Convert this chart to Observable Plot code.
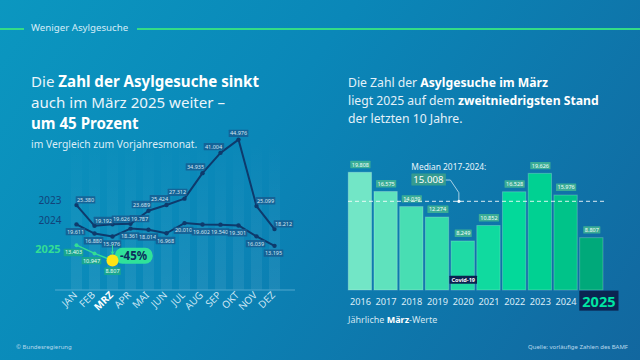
<!DOCTYPE html>
<html lang="de">
<head>
<meta charset="utf-8">
<script src="https://cdn.jsdelivr.net/npm/d3@7"></script>
<script src="https://cdn.jsdelivr.net/npm/@observablehq/plot@0.6"></script>
<style>
  html, body { margin: 0; padding: 0; }
  body {
    width: 640px; height: 360px; position: relative; overflow: hidden;
    background: linear-gradient(125deg, #0b97c0 0%, #0a87b8 40%, #12679f 100%);
    font-family: "Noto Sans", sans-serif; color: #eef7fc;
  }
  .abs { position: absolute; white-space: nowrap; }
  .hline { position: absolute; height: 1.5px; background: #34dc86; top: 28px; }
  #header { left: 31px; top: 21px; font-size: 9.7px; line-height: 14px; color: #d6edf8; }
  #ltitle { left: 31px; top: 71px; font-size: 15.1px; line-height: 21px; color: #eaf5fb; }
  #lsub { left: 31px; top: 137px; font-size: 10.3px; line-height: 14px; color: #dcedf7; }
  #rtitle { left: 348px; top: 74px; font-size: 12.2px; line-height: 18px; color: #e4f1f9; }
  #rnote { left: 348px; top: 313px; font-size: 9px; line-height: 14px; color: #d2e6f1; }
  #credit { left: 16px; top: 342px; font-size: 6px; line-height: 10px; color: #b9d9ec; }
  #source { right: 12px; top: 342px; font-size: 6px; line-height: 10px; color: #b9d9ec; }
  b { color: #ffffff; font-weight: 700; }
  svg.plot { position: absolute; left: 0; top: 0; }
</style>
</head>
<body>
<div class="hline" style="left:0;width:24px"></div>
<div class="hline" style="left:137px;width:503px"></div>
<div id="header" class="abs">Weniger Asylgesuche</div>
<div id="ltitle" class="abs">Die <b>Zahl der Asylgesuche sinkt</b><br>auch im März 2025 weiter –<br><b>um 45 Prozent</b></div>
<div id="lsub" class="abs">im Vergleich zum Vorjahresmonat.</div>
<div id="rtitle" class="abs">Die Zahl der <b>Asylgesuche im März</b><br>liegt 2025 auf dem <b>zweitniedrigsten Stand</b><br>der letzten 10 Jahre.</div>
<div id="rnote" class="abs">Jährliche <b>März</b>-Werte</div>
<div id="credit" class="abs">© Bundesregierung</div>
<div id="source" class="abs">Quelle: vorläufige Zahlen des BAMF</div>

<script>
// ---------- data ----------
const months = ["JAN", "FEB", "MRZ", "APR", "MAI", "JUN", "JUL", "AUG", "SEP", "OKT", "NOV", "DEZ"];
const asyl2023 = [25380, 19192, 19626, 19787, 23689, 25424, 27312, 34935, 41004, 44976, 25099, 18212];
const asyl2024 = [19611, 16880, 15976, 18361, 18014, 16968, 20010, 19602, 19540, 19301, 16039, 13195];
const asyl2025 = [13403, 10947, 8807];
const changeLabel = "-45%";

const marchYears = [2016, 2017, 2018, 2019, 2020, 2021, 2022, 2023, 2024, 2025];
const marchValues = [19808, 16575, 14039, 12274, 8249, 10852, 16528, 19626, 15976, 8807];
const medianValue = 15008;
const medianLabel = "Median 2017-2024:";
const covidYear = 2020;
const covidLabel = "Covid-19";

// ---------- styles ----------
const FONT = "Noto Sans, sans-serif";
const NAVY = "#0e3a6c";
const GREEN = "#33dd95";
const barColors = ["#72e6c6", "#5fe2bd", "#48deb3", "#33dbab", "#1fdaa5", "#10da9f", "#03d99a", "#00d192", "#00c389", "#00a97a"];
// unique text fills, used to find each label group afterwards
const F23 = "#d4e6f3", F24 = "#d4e6f2", F25 = "#e6fff4", FPILL = "#0c2f5c",
      FBAR = "#f2fffb", FMED = "#fffffe", FCOV = "#fffffd", FY25 = "#00e6a2";

const de = d3.formatLocale({decimal: ",", thousands: ".", grouping: [3], currency: ["", "€"]});
const fmt = de.format(",d");

const rows = (vals, series) => vals.map((v, i) => ({month: months[i], idx: i, value: v, series}));
const r23 = rows(asyl2023, "2023");
const r24 = rows(asyl2024, "2024");
const r25 = rows(asyl2025, "2025");
const last25 = r25[r25.length - 1];
const prev24 = r24[last25.idx];

const marchRows = marchYears.map((y, i) => ({year: y, value: marchValues[i]}));

// ---------- left chart ----------
const lbl = {fontSize: 5.5, text: d => fmt(d.value), x: "month", y: "value"};
const left = Plot.plot({
  width: 640, height: 360,
  marginLeft: 55, marginRight: 345, marginTop: 0, marginBottom: 70,
  style: {background: "transparent", fontFamily: FONT, overflow: "visible"},
  x: {type: "point", domain: months, range: [65, 285], axis: null},
  y: {domain: [0, 45000], range: [289.5, 139], axis: null},
  marks: [
    Plot.ruleX(months, {x: d => d, y1: 0, y2: 45000, stroke: "url(#colFade)", strokeWidth: 11}),
    Plot.ruleY([0], {stroke: "#8cc8e6", strokeOpacity: 0.55, strokeWidth: 1}),
    Plot.axisX({tickRotate: -45, tickSize: 0, tickPadding: 3, fontSize: 10, color: "#cde6f4", label: null, dx: -1}),
    // 2023
    Plot.line(r23, {x: "month", y: "value", stroke: NAVY, strokeWidth: 2}),
    Plot.dot(r23, {x: "month", y: "value", r: 2.2, fill: NAVY}),
    Plot.text(r23, {...lbl, fill: F23, filter: d => d.idx < 4 || d.idx > 9, dx: 9, dy: -5}),
    Plot.text(r23, {...lbl, fill: F23, filter: d => d.idx >= 4 && d.idx <= 8, dx: -7, dy: -6}),
    Plot.text(r23, {...lbl, fill: F23, filter: d => d.idx === 9, dx: 0, dy: -6}),
    // 2024
    Plot.line(r24, {x: "month", y: "value", stroke: NAVY, strokeWidth: 2}),
    Plot.dot(r24, {x: "month", y: "value", r: 2.2, fill: NAVY}),
    Plot.text(r24, {...lbl, fill: F24, dx: -1, dy: 7.5}),
    // 2025
    Plot.line(r25, {x: "month", y: "value", stroke: GREEN, strokeWidth: 1.5}),
    Plot.dot(r25.slice(0, -1), {x: "month", y: "value", r: 2, fill: GREEN}),
    Plot.text(r25.slice(0, -1), {...lbl, fill: F25, dx: -3, dy: 7.5}),
    Plot.text([last25], {...lbl, fill: F25, dy: 11}),
    Plot.arrow([{a: prev24, b: last25}], {x1: d => d.a.month, y1: d => d.a.value, x2: d => d.b.month, y2: d => d.b.value,
      stroke: GREEN, strokeWidth: 1, headLength: 4, insetStart: 9, insetEnd: 6.5}),
    Plot.text([last25], {x: "month", y: "value", text: () => changeLabel, dx: 21, dy: -4, fontSize: 11.5, fontWeight: 700, fill: FPILL}),
    Plot.dot([last25], {x: "month", y: "value", r: 6, fill: "#ffe414"}),
    // series labels
    Plot.text([r23[0], r24[0]], {x: "month", y: "value", text: "series", textAnchor: "end", dx: -15, dy: -4, fontSize: 10, fill: "#12437a"}),
    Plot.text([r25[0]], {x: "month", y: "value", text: "series", textAnchor: "end", dx: -16, dy: 4, fontSize: 11, fontWeight: 700, fill: GREEN})
  ]
});

// ---------- right chart ----------
const anchorYear = 2019.83;
const leader = [
  {x: 2019.12, y: 18590}, {x: 2019.50, y: 18590}, {x: anchorYear, y: 16460}, {x: anchorYear, y: medianValue}
];
const right = Plot.plot({
  width: 640, height: 360,
  marginLeft: 348, marginRight: 35, marginTop: 0, marginBottom: 70,
  style: {background: "transparent", fontFamily: FONT, overflow: "visible"},
  x: {domain: [2016, 2025], range: [359.9, 591.3], axis: null},
  y: {domain: [0, 20000], range: [290, 171.14], axis: null},
  color: {type: "ordinal", domain: marchYears, range: barColors},
  marks: [
    Plot.rectY(marchRows, {x1: d => d.year - 0.453, x2: d => d.year + 0.453, y1: 0, y2: "value", fill: "year", stroke: "#ffffff", strokeOpacity: 0.22, strokeWidth: 1}),
    Plot.text(marchRows, {x: "year", y: "value", text: d => fmt(d.value), dy: -8, fontSize: 5.5, fill: FBAR}),
    Plot.ruleY([medianValue], {stroke: "#ffffff", strokeOpacity: 0.85, strokeDasharray: "4,3", strokeWidth: 1}),
    Plot.line(leader, {x: "x", y: "y", stroke: "#cfe6f3", strokeWidth: 0.8}),
    Plot.dot([{x: anchorYear, y: medianValue}], {x: "x", y: "y", r: 1.6, fill: "#ffffff"}),
    Plot.text([medianLabel], {x: () => anchorYear, y: () => medianValue, text: d => d, textAnchor: "start", dx: -47.5, dy: -34.5, fontSize: 8.4, fill: "#e8f4fb"}),
    Plot.text([medianValue], {x: () => anchorYear, y: d => d, text: d => fmt(d), textAnchor: "start", dx: -45.5, dy: -21.5, fontSize: 9.6, fill: FMED}),
    Plot.text([covidYear], {x: d => d, y: () => 0, text: () => covidLabel, dy: -10.5, fontSize: 5.6, fontWeight: 700, fill: FCOV}),
    Plot.text(marchYears.slice(0, -1), {x: d => d, y: () => 0, text: d => String(d), dy: 11.5, fontSize: 9.2, fill: "#dcedf7"}),
    Plot.text(marchYears.slice(-1), {x: d => d, y: () => 0, text: d => String(d), textAnchor: "start", dx: -9.5, dy: 11.5, fontSize: 14.5, fontWeight: 700, fill: FY25})
  ]
});

left.classList.add("plot");
right.classList.add("plot");
document.body.appendChild(left);
document.body.appendChild(right);

const NS = "http://www.w3.org/2000/svg";

// gradient for faint month columns
try {
  const defs = document.createElementNS(NS, "defs");
  const lg = document.createElementNS(NS, "linearGradient");
  lg.setAttribute("id", "colFade");
  lg.setAttribute("gradientUnits", "userSpaceOnUse");
  lg.setAttribute("x1", "0"); lg.setAttribute("y1", "140");
  lg.setAttribute("x2", "0"); lg.setAttribute("y2", "290");
  [["0", "0"], ["1", "0.07"]].forEach(([o, op]) => {
    const s = document.createElementNS(NS, "stop");
    s.setAttribute("offset", o); s.setAttribute("stop-color", "#ffffff"); s.setAttribute("stop-opacity", op);
    lg.appendChild(s);
  });
  defs.appendChild(lg);
  left.insertBefore(defs, left.firstChild);
} catch (e) { console.error(e); }

// boxes behind label texts
function boxify(svg, textFill, fill, opacity, padX, padY, rx) {
  const texts = new Set();
  svg.querySelectorAll("g").forEach(g => {
    if ((g.getAttribute("fill") || "").toLowerCase() === textFill) g.querySelectorAll("text").forEach(t => texts.add(t));
  });
  svg.querySelectorAll("text").forEach(t => {
    if ((t.getAttribute("fill") || "").toLowerCase() === textFill) texts.add(t);
  });
  texts.forEach(t => {
    try {
      const b = t.getBBox();
      const r = document.createElementNS(NS, "rect");
      r.setAttribute("x", b.x - padX);
      r.setAttribute("y", b.y - padY);
      r.setAttribute("width", b.width + 2 * padX);
      r.setAttribute("height", b.height + 2 * padY);
      r.setAttribute("fill", fill);
      r.setAttribute("fill-opacity", opacity);
      r.setAttribute("rx", rx);
      const tr = t.getAttribute("transform");
      if (tr) r.setAttribute("transform", tr);
      t.parentNode.insertBefore(r, t);
    } catch (e) { console.error(e); }
  });
}
boxify(left, F23, "#165a8e", 0.8, 1.2, -0.3, 0.5);
boxify(left, F24, "#165a8e", 0.8, 1.2, -0.3, 0.5);
boxify(left, F25, "#1aa88a", 0.9, 1.2, -0.3, 0.5);
boxify(left, FPILL, "#2fe29a", 1, 5, 0.5, 7.5);
boxify(right, FBAR, "#3fb394", 0.9, 1.5, -0.3, 0.5);
boxify(right, FMED, "#3a9f8d", 0.9, 2, -0.5, 0.5);
boxify(right, FCOV, "#0b2250", 1, 2, 0, 0.5);
boxify(right, FY25, "#0b2552", 1, 3, 0, 0);

// bold white MRZ tick
left.querySelectorAll("text").forEach(t => {
  if (t.textContent === "MRZ") { t.setAttribute("font-weight", "700"); t.setAttribute("fill", "#ffffff"); }
});
</script>
</body>
</html>
